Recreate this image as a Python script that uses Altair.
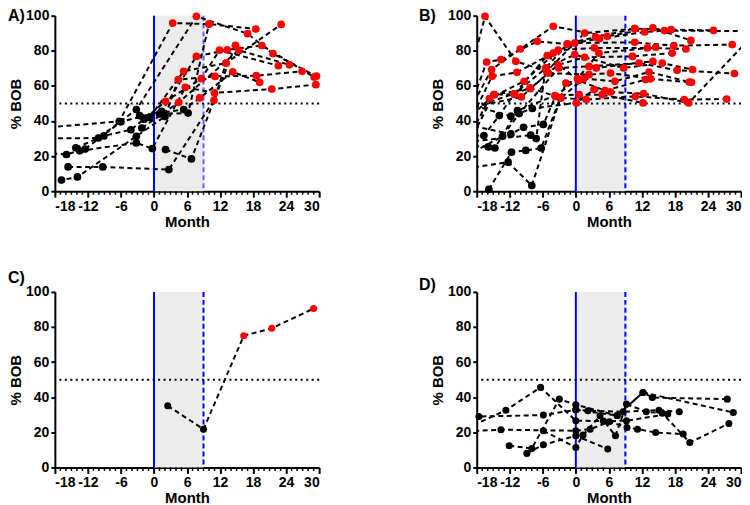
import altair as alt
import pandas as pd

# ---------------- data ----------------
MONTH_TICKS = [-18, -12, -6, 0, 6, 12, 18, 24, 30]
MINOR_TICKS = [m for m in range(-18, 31) if m % 6 != 0]
Y_TICKS = [0, 20, 40, 60, 80, 100]
BAND = [0, 9]          # shaded treatment window (months)
THRESHOLD = 50         # % BOB reference line

A_months = [
    [-20.5, -6.3, 3.4, 10.0, 18.5],
    [-20.5, -10.1, -3.2, 7.7, 17.0, 21.6, 29.5],
    [-20.0, -15.9, -12.5, -6.0, 1.4, 7.7, 13.3, 19.6, 29.1],
    [-20.0, -16.8, -13.9, -3.2, 2.0, 4.4, 11.1, 18.6, 26.9],
    [-15.6, -9.3, 2.7, 10.9, 13.1, 23.1],
    [-14.2, -9.1, -4.2, -1.8, 2.1, 8.6, 11.9, 22.6],
    [-13.5, -3.2, -0.3, 5.7, 11.0, 21.4, 29.4],
    [-2.6, 5.4, 8.3, 14.3, 19.2],
    [-2.2, 4.5, 15.4, 24.6],
    [2.1, 6.8, 14.8],
    [1.0, 6.2, 10.0],
    [-0.8, 5.4, 13.1],
]
A_values = [
    [36.0, 39.8, 95.8, 95.2, 92.4],
    [30.0, 30.3, 46.5, 99.6, 89.7, 78.4, 65.5],
    [22.0, 20.9, 24.0, 39.5, 45.5, 76.8, 80.5, 83.0, 65.0],
    [12.0, 6.3, 8.1, 31.3, 42.6, 63.6, 65.4, 65.8, 68.3],
    [13.8, 13.8, 12.3, 51.8, 73.0, 95.0],
    [24.7, 31.5, 35.0, 41.0, 51.2, 64.1, 80.3, 71.5],
    [23.0, 27.5, 24.3, 59.2, 56.0, 58.2, 60.7],
    [43.0, 46.5, 53.1, 68.0, 62.0],
    [36.0, 50.6, 80.3, 72.0],
    [23.7, 18.4, 83.1],
    [44.0, 44.5, 95.2],
    [42.0, 68.3, 73.0],
]

B_months = [
    [-20.0, -16.5, -10.9, -5.3, 1.6, 10.7, 17.3, 25.0],
    [-19.5, -16.2, -13.6, -7.0, -1.6, 4.3, 12.5, 16.1, 31.0],
    [-20.0, -15.3, -10.1, -4.1, 5.7, 14.0, 20.9],
    [-20.0, -15.2, -10.7, -4.1, -0.2, 10.7, 17.8, 28.4],
    [-19.5, -15.7, -9.4, -3.2, 3.4, 13.0, 20.0],
    [-20.0, -14.9, -8.3, -3.2, 1.6, 10.3, 17.5],
    [-20.0, -16.7, -13.9, -11.2, -5.4, -0.2, 8.7, 15.7, 21.2],
    [-20.0, -15.9, -14.7, -10.6, -3.8, 0.6, 4.8, 12.2],
    [-20.0, -13.3, -10.3, -3.1, 2.4, 11.5, 18.4, 28.8],
    [-20.0, -12.3, -8.0, -2.8, 1.9, 10.8, 19.7, 27.4],
    [-15.8, -11.7, -9.1, -6.3, -1.8, 1.4, 7.1, 13.3, 20.6],
    [-20.0, -11.8, -7.9, 0.1, 3.3, 6.3, 12.3, 20.5, 31.0],
    [-20.0, -11.8, -9.5, -5.9, -3.7, 0.3, 4.2, 14.5],
    [-20.0, -8.2, -7.2, -5.5, -1.5, 3.6, 10.7],
    [-20.0, -9.9, -5.0, 2.4, 6.3, 13.6, 21.0],
    [-20.0, -14.8, -11.2, -5.2, 0.5, 5.3, 12.7],
    [-20.0, -8.3, -2.7, 3.7, 14.0],
]
B_values = [
    [57.0, 99.6, 74.0, 68.3, 90.1, 92.6, 92.0, 91.6],
    [45.0, 73.6, 75.0, 85.4, 83.8, 86.9, 90.7, 91.5, 91.2],
    [42.0, 69.3, 81.0, 93.9, 88.2, 93.0, 85.9],
    [35.0, 65.5, 67.7, 78.7, 84.4, 84.8, 82.9, 83.5],
    [30.0, 52.8, 62.6, 80.3, 81.6, 81.6, 81.0],
    [24.0, 55.0, 58.4, 72.0, 76.3, 76.8, 78.7],
    [31.5, 31.7, 43.1, 55.4, 70.2, 77.8, 70.2, 73.0, 69.3],
    [26.0, 25.2, 24.6, 45.9, 54.5, 55.0, 55.0, 50.3],
    [20.0, 31.3, 44.2, 70.2, 71.1, 73.0, 68.9, 67.0],
    [13.0, 16.5, 3.2, 53.1, 52.2, 54.0, 52.2, 52.5],
    [1.0, 22.2, 23.2, 24.6, 61.6, 64.1, 62.6, 67.9, 62.2],
    [50.0, 42.7, 47.1, 50.3, 57.9, 56.5, 55.6, 50.3, 85.0],
    [38.0, 32.6, 36.4, 38.0, 54.0, 64.1, 78.7, 82.0],
    [28.0, 31.9, 30.0, 70.0, 84.0, 87.8, 92.6],
    [47.0, 53.7, 67.3, 66.4, 67.3, 64.0, 62.0],
    [40.0, 55.0, 55.2, 77.2, 63.0, 57.3, 63.6],
    [46.0, 58.8, 53.1, 70.2, 74.0],
]

C_months = [[2.5, 9.0, 16.3, 21.4, 29.0]]
C_values = [[35.1, 21.8, 75.0, 79.3, 90.5]]

D_months = [
    [-18.5, -17.6, -5.9, 0.0, 2.2, 8.6, 15.1, 18.8],
    [-20.0, -13.6, 0.0, 2.6, 6.1, 9.3, 11.2, 14.5, 19.5],
    [-20.0, -12.7, -6.4, 0.0, 5.0, 9.2, 16.7],
    [-12.1, -8.0, -3.0, 0.0, 7.5, 12.2, 13.9, 27.5],
    [-8.9, -5.9, 0.0, 5.8],
    [-5.9, 0.0, 1.3, 4.4, 7.2, 9.2, 12.8, 15.7, 20.7, 27.8],
    [0.0, 7.5, 12.2, 28.6],
]
D_values = [
    [27.0, 29.0, 29.8, 32.8, 32.3, 31.7, 32.6, 31.7],
    [20.5, 21.5, 20.9, 21.8, 26.0, 22.8, 21.8, 19.9, 19.0],
    [22.0, 32.6, 45.6, 26.6, 26.4, 26.6, 30.4],
    [12.4, 10.8, 38.9, 35.7, 29.6, 42.7, 39.8, 38.9],
    [8.0, 12.9, 18.0, 10.5],
    [20.9, 11.4, 18.4, 29.4, 18.0, 36.1, 31.7, 30.9, 14.2, 25.0],
    [32.8, 29.6, 42.7, 31.3],
]

# ---------------- chart ----------------
W, H = 265, 176
FONT = "Arial"


def series_df(months, values):
    rows = []
    for i, (ms, vs) in enumerate(zip(months, values)):
        for m, v in zip(ms, vs):
            rows.append({"series": i, "month": m, "bob": v,
                         "level": "high" if v >= THRESHOLD else "low"})
    return pd.DataFrame(rows)


X_SCALE = alt.Scale(domain=[-18, 30], nice=False, zero=False)
Y_SCALE = alt.Scale(domain=[0, 100], nice=False)


def panel(label, months, values, dash_color, lab_dx, lab_dy, dot_size):
    df = series_df(months, values)
    pts = df[(df.month >= -18) & (df.month <= 30)]

    X = alt.X("month:Q", scale=X_SCALE,
              axis=alt.Axis(values=MONTH_TICKS, title="Month", tickSize=6,
                            labelPadding=2, titlePadding=1,
                            labelExpr="'' + datum.value"))
    Y = alt.Y("bob:Q", scale=Y_SCALE,
              axis=alt.Axis(values=Y_TICKS, title="% BOB", tickSize=4,
                            labelPadding=2, titlePadding=2,
                            labelExpr="'' + datum.value"))

    band = alt.Chart(pd.DataFrame({"month": [BAND[0]], "month_end": [BAND[1]],
                                   "bob": [0], "bob_end": [100]})).mark_rect(
        color="#ececec").encode(x=X, x2="month_end", y=Y, y2="bob_end")

    start = alt.Chart(pd.DataFrame({"month": [BAND[0]]})).mark_rule(
        color="#0000ff", strokeWidth=2).encode(x=X)
    end = alt.Chart(pd.DataFrame({"month": [BAND[1]]})).mark_rule(
        color=dash_color, strokeWidth=2, strokeDash=[5, 3]).encode(x=X)
    thr = alt.Chart(pd.DataFrame({"bob": [THRESHOLD]})).mark_rule(
        color="black", strokeWidth=2, strokeDash=[2, 3.5]).encode(y=Y)

    lines = alt.Chart(df).mark_line(
        color="black", strokeWidth=2, strokeDash=[5, 3.5], clip=True).encode(
        x=X, y=Y, detail="series:N", order="month:Q")
    dots = alt.Chart(pts).mark_circle(size=dot_size, opacity=1).encode(
        x=X, y=Y,
        color=alt.Color("level:N", scale=alt.Scale(domain=["high", "low"],
                                                   range=["#ff0000", "#000000"]),
                        legend=None))

    minor = alt.Chart(pd.DataFrame({"month": MINOR_TICKS})).mark_rule(
        color="black", strokeWidth=1.5).encode(
        x=X, y=alt.value(H), y2=alt.value(H + 3.5))

    lab = alt.Chart(pd.DataFrame({"t": [label]})).mark_text(
        align="left", baseline="alphabetic", font=FONT, fontSize=16,
        fontWeight="bold", color="black").encode(
        text="t:N", x=alt.value(lab_dx), y=alt.value(lab_dy))

    return alt.layer(band, start, end, thr, lines, dots, minor, lab).properties(
        width=W, height=H)


pA = panel("A)", A_months, A_values, "#6060ff", -47, 5, 60)
pB = panel("B)", B_months, B_values, "#0000ff", -58, 5, 60)
pC = panel("C)", C_months, C_values, "#0000ff", -47, -9, 50)
pD = panel("D)", D_months, D_values, "#0000ff", -58, -2, 50)

chart = alt.concat(pA, pB, pC, pD, columns=2, bounds="flush",
                   spacing={"row": 101, "column": 158}).properties(
    padding={"left": 0, "top": -1, "right": 0, "bottom": 0}
).configure_view(stroke=None).configure_axis(
    grid=False, domainColor="black", domainWidth=2, tickColor="black",
    tickWidth=2, labelFont=FONT, labelFontSize=14, labelFontWeight="bold",
    labelColor="black", titleFont=FONT, titleFontSize=15,
    titleFontWeight="bold", titleColor="black")

chart.save("out.html", embed_options={"renderer": "svg", "actions": False})
